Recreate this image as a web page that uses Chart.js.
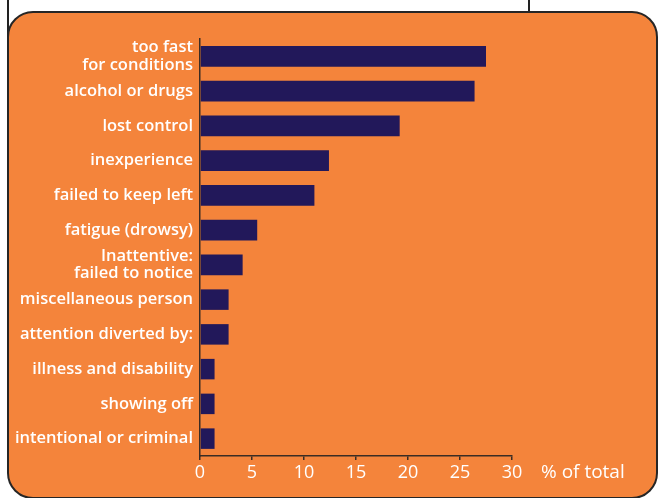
<!DOCTYPE html>
<html>
<head>
<meta charset="utf-8">
<script src="https://cdn.jsdelivr.net/npm/chart.js@4"></script>
<style>
  html, body { margin: 0; padding: 0; background: #fff; }
  #wrap { position: relative; width: 664px; height: 498px; overflow: hidden; }
  .rule { position: absolute; background: #222; width: 2px; top: 0; }
  #box {
    position: absolute; left: 7px; top: 11px; width: 647px; height: 484px;
    background: #f4843b; border: 2.5px solid #262626; border-radius: 26px;
  }
  canvas { position: absolute; left: 0; top: 0; }
</style>
</head>
<body>
<div id="wrap">
  <div class="rule" style="left:7px;height:40px"></div>
  <div class="rule" style="left:528px;height:13px"></div>
  <div id="box"></div>
  <canvas id="chart" width="664" height="498"></canvas>
</div>
<script>
const causes = [
  ['too fast', 'for conditions'],
  'alcohol or drugs',
  'lost control',
  'inexperience',
  'failed to keep left',
  'fatigue (drowsy)',
  ['Inattentive:', 'failed to notice'],
  'miscellaneous person',
  'attention diverted by:',
  'illness and disability',
  'showing off',
  'intentional or criminal'
]
const percent = [27.5, 26.4, 19.2, 12.4, 11.0, 5.5, 4.1, 2.75, 2.75, 1.4, 1.4, 1.4]
const xTicks = [0, 5, 10, 15, 20, 25, 30]
const unitLabel = '% of total'

const font = 'Open Sans'
const axisColor = '#3a2c24'

// unit text sits to the right of the last x tick
const unitPlugin = {
  id: 'unit',
  afterDraw(chart) {
    const ctx = chart.ctx
    const x = chart.scales.x
    ctx.save()
    ctx.font = '19px "' + font + '"'
    ctx.fillStyle = '#fff'
    ctx.textBaseline = 'middle'
    ctx.textAlign = 'left'
    ctx.fillText(unitLabel, x.right + 29, x.top + 17)
    ctx.restore()
  }
}

new Chart(document.getElementById('chart'), {
  type: 'bar',
  data: {
    labels: causes,
    datasets: [{
      data: percent,
      backgroundColor: '#22185a',
      borderWidth: 0,
      barPercentage: 0.59,
      categoryPercentage: 1
    }]
  },
  plugins: [unitPlugin],
  options: {
    indexAxis: 'y',
    responsive: false,
    animation: false,
    devicePixelRatio: 1,
    layout: { padding: { left: 0, right: 152, top: 39, bottom: 0 } },
    plugins: {
      legend: { display: false },
      tooltip: { enabled: false }
    },
    scales: {
      x: {
        min: 0,
        max: 30,
        afterBuildTicks: (scale) => { scale.ticks = xTicks.map(v => ({ value: v })) },
        afterFit: (scale) => { scale.height = 42 },
        grid: { display: true, drawOnChartArea: false, drawTicks: true, tickLength: 4, color: axisColor, lineWidth: 1.5 },
        border: { display: true, color: axisColor, width: 1.5 },
        ticks: { color: '#fff', font: { family: font, size: 18 }, padding: 2, maxRotation: 0 }
      },
      y: {
        afterFit: (scale) => { scale.width = 200 },
        grid: { display: false, drawTicks: false },
        border: { display: true, color: axisColor, width: 1.5 },
        ticks: { color: '#fff', autoSkip: false, font: { family: font, size: 16.5, weight: '600', lineHeight: 1.07 }, padding: 7 }
      }
    }
  }
})
</script>
</body>
</html>
